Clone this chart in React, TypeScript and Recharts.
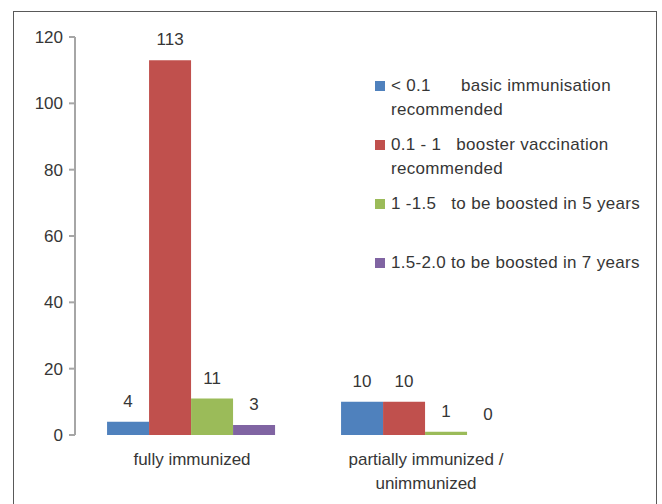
import React from 'react';
import { BarChart, Bar, XAxis, YAxis, Legend, LabelList } from 'recharts';

// Categories and per-series counts
const categories = ['fully immunized', 'partially immunized /\nunimmunized'];
const basicImmunisation = [4, 10];
const boosterVaccination = [113, 10];
const boostIn5Years = [11, 1];
const boostIn7Years = [3, 0];

const seriesKeys = ['basic', 'booster', 'five', 'seven'];
const seriesNames = [
  '< 0.1      basic immunisation\nrecommended',
  '0.1 - 1   booster vaccination\nrecommended',
  '1 -1.5   to be boosted in 5 years',
  '1.5-2.0 to be boosted in 7 years',
];
const seriesColors = ['#4F81BD', '#C0504D', '#9BBB59', '#8064A2'];
const yTicks = [0, 20, 40, 60, 80, 100, 120];
const boundaryTicks = [0, 1, 2];

const data = categories.map((category, i) => ({
  category,
  basic: basicImmunisation[i],
  booster: boosterVaccination[i],
  five: boostIn5Years[i],
  seven: boostIn7Years[i],
}));

const FONT = '"Liberation Sans", Arial, sans-serif';
const TEXT = '#363636';
const AXIS = '#A6A6A6';

const CategoryTick = (props: any) => {
  const { x, y, payload } = props;
  const lines = String(payload.value).split('\n');
  return (
    <text x={x} y={y} textAnchor="middle" fill={TEXT} fontSize={17} fontFamily={FONT}>
      {lines.map((line, i) => (
        <tspan key={i} x={x} dy={i === 0 ? 22 : 24}>
          {line}
        </tspan>
      ))}
    </text>
  );
};

// Legend keeps the series order of the chart
const LegendContent = () => (
  <div style={{ fontFamily: FONT, fontSize: 17, color: TEXT, letterSpacing: 0.3 }}>
    {seriesNames.map((name, i) => (
      <div key={i} style={{ position: 'relative', height: 59, lineHeight: '24px' }}>
        <span
          style={{
            position: 'absolute',
            left: 0,
            top: 7,
            width: 10,
            height: 10,
            background: seriesColors[i],
          }}
        />
        <div style={{ marginLeft: 16, whiteSpace: 'pre' }}>{name}</div>
      </div>
    ))}
  </div>
);

export default function App() {
  return (
    <div
      style={{
        position: 'absolute',
        left: 0,
        top: 0,
        width: 662,
        height: 504,
        overflow: 'hidden',
        background: '#fff',
      }}
    >
      <div
        style={{
          position: 'absolute',
          left: 13,
          top: 11,
          width: 644,
          height: 510,
          border: '1px solid #595959',
          boxSizing: 'border-box',
        }}
      />
      <div style={{ position: 'absolute', left: 0, top: 0 }}>
        <BarChart
          width={662}
          height={504}
          data={data}
          margin={{ top: 37, right: 119, bottom: 19, left: 0 }}
          barCategoryGap="13.7%"
          barGap={0}
        >
          <YAxis
            width={75}
            domain={[0, 120]}
            ticks={yTicks}
            interval={0}
            stroke={AXIS}
            strokeWidth={2}
            tickSize={6}
            tickMargin={6}
            tick={{ fill: TEXT, fontSize: 17, fontFamily: FONT }}
          />
          <Legend
            layout="vertical"
            align="center"
            verticalAlign="middle"
            wrapperStyle={{ left: 375, top: 74, width: 287 }}
            content={<LegendContent />}
          />
          {seriesKeys.map((key, i) => (
            <Bar
              key={key}
              xAxisId="bCat"
              dataKey={key}
              name={seriesNames[i]}
              fill={seriesColors[i]}
              minPointSize={0.01}
              isAnimationActive={false}
            >
              <LabelList
                dataKey={key}
                position="top"
                offset={15}
                fill={TEXT}
                fontSize={17}
                fontFamily={FONT}
              />
            </Bar>
          ))}
          <XAxis
            xAxisId="aFrame"
            type="number"
            domain={[0, 2]}
            ticks={boundaryTicks}
            height={0}
            tickFormatter={() => ''}
            stroke={AXIS}
            strokeWidth={2.5}
            tickSize={6}
            allowDataOverflow
          />
          <XAxis
            xAxisId="bCat"
            dataKey="category"
            axisLine={false}
            tickLine={false}
            height={50}
            interval={0}
            tick={<CategoryTick />}
          />
        </BarChart>
      </div>
    </div>
  );
}
